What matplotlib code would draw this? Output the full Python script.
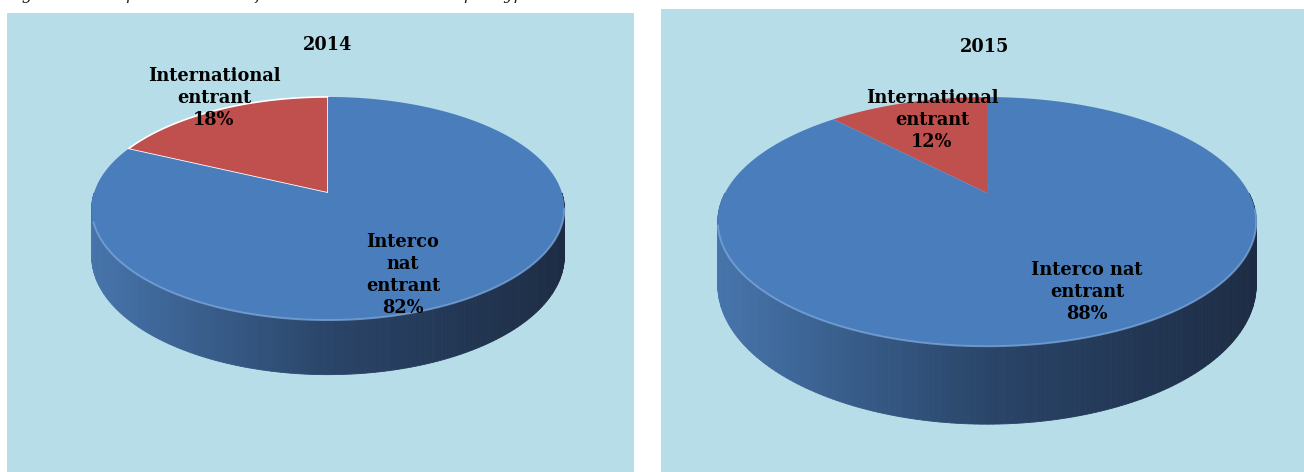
import matplotlib.pyplot as plt
import numpy as np
from matplotlib.colors import LinearSegmentedColormap

# data
years = ["2014", "2015"]
categories = ["International\nentrant", "Interco nat\nentrant"]
shares_2014 = [18, 82]
shares_2015 = [12, 88]
labels_2014 = ["International\nentrant\n18%", "Interco\nnat\nentrant\n82%"]
labels_2015 = ["International\nentrant\n12%", "Interco nat\nentrant\n88%"]

W, H = 1304, 472
BG = "#b7dde8"
top_colors = ["#c0504d", "#4a7dbc"]
side_cmap = LinearSegmentedColormap.from_list("side", ["#4674ab", "#2a4569", "#1d2c44"])
font = dict(family="DejaVu Serif", weight="bold", size=12.8, color="black")

fig = plt.figure(figsize=(W / 100, H / 100), dpi=100)
fig.patch.set_facecolor("white")


def proj(cx, cy, rx, ry, k, th, h=0.0):
    s, c = np.sin(th), np.cos(th)
    f = 1.0 / (1.0 + k * s)
    return cx + rx * c * f, cy - ry * s * f + h * f


def pie3d(ax, shares, labels, title, geo, label_pos, title_pos, white_edge):
    cx, cy, rx, ry, k, depth = geo
    # side of the cake (front half)
    ths = np.linspace(np.pi, 2 * np.pi, 181)
    xs_top, ys_top = proj(cx, cy, rx, ry, k, ths)
    xs_bot, ys_bot = proj(cx, cy, rx, ry, k, ths, depth)
    xmin, xmax = xs_top.min(), xs_top.max()
    for i in range(len(ths) - 1):
        t = ((xs_top[i] + xs_top[i + 1]) / 2 - xmin) / (xmax - xmin)
        ax.fill([xs_top[i], xs_top[i + 1], xs_bot[i + 1], xs_bot[i]],
                [ys_top[i], ys_top[i + 1], ys_bot[i + 1], ys_bot[i]],
                color=side_cmap(t), lw=0.6, ec=side_cmap(t), zorder=2)
    # top surface, slices counter-clockwise from 12 o'clock
    start = np.pi / 2
    total = float(sum(shares))
    for j, v in enumerate(shares):
        end = start + 2 * np.pi * v / total
        th = np.linspace(start, end, 200)
        px, py = proj(cx, cy, rx, ry, k, th)
        px = np.concatenate([[cx], px, [cx]])
        py = np.concatenate([[cy], py, [cy]])
        ec = "white" if (white_edge and j == 0) else "none"
        ax.fill(px, py, color=top_colors[j], ec=ec, lw=1.2, zorder=3)
        start = end
    # light rim on the front edge
    th = np.linspace(np.radians(195), np.radians(352), 150)
    rx_, ry_ = proj(cx, cy, rx, ry, k, th)
    ax.plot(rx_, ry_, color="#79a4d8", lw=1.4, zorder=4, alpha=0.8)
    for lab, (lx, ly) in zip(labels, label_pos):
        ax.text(lx, ly, lab, ha="center", va="center", linespacing=1.3, zorder=5, **font)
    ax.text(title_pos[0], title_pos[1], title, ha="center", va="center", zorder=5, **font)


panels = [(7, 634, 13), (661, 1304, 9)]
geos = [(328, 193, 234, 109.4, 0.139, 47), (987, 193, 262, 118, 0.23, 60)]
label_spots = [[(214, 98), (403, 275)], [(932, 120), (1087, 292)]]
title_spots = [(328, 45), (985, 47)]
all_shares = [shares_2014, shares_2015]
all_labels = [labels_2014, labels_2015]

for i in range(2):
    x0, x1, y0 = panels[i]
    ax = fig.add_axes([x0 / W, 0, (x1 - x0) / W, (H - y0) / H])
    ax.set_facecolor(BG)
    ax.set_xlim(x0, x1)
    ax.set_ylim(H, y0)
    ax.set_xticks([])
    ax.set_yticks([])
    for sp in ax.spines.values():
        sp.set_visible(False)
    pie3d(ax, all_shares[i], all_labels[i], years[i], geos[i],
          label_spots[i], title_spots[i], white_edge=(i == 0))

# caption, cut by the top edge as in the source (only descenders show)
fig.text(0.004, 1 + 1 / H, "Figure 14 : Répartition du trafic international entrant par type",
         ha="left", va="baseline", style="italic", family="DejaVu Serif", size=12, color="#222222")

fig.savefig("out.png", dpi=100, facecolor="white")
